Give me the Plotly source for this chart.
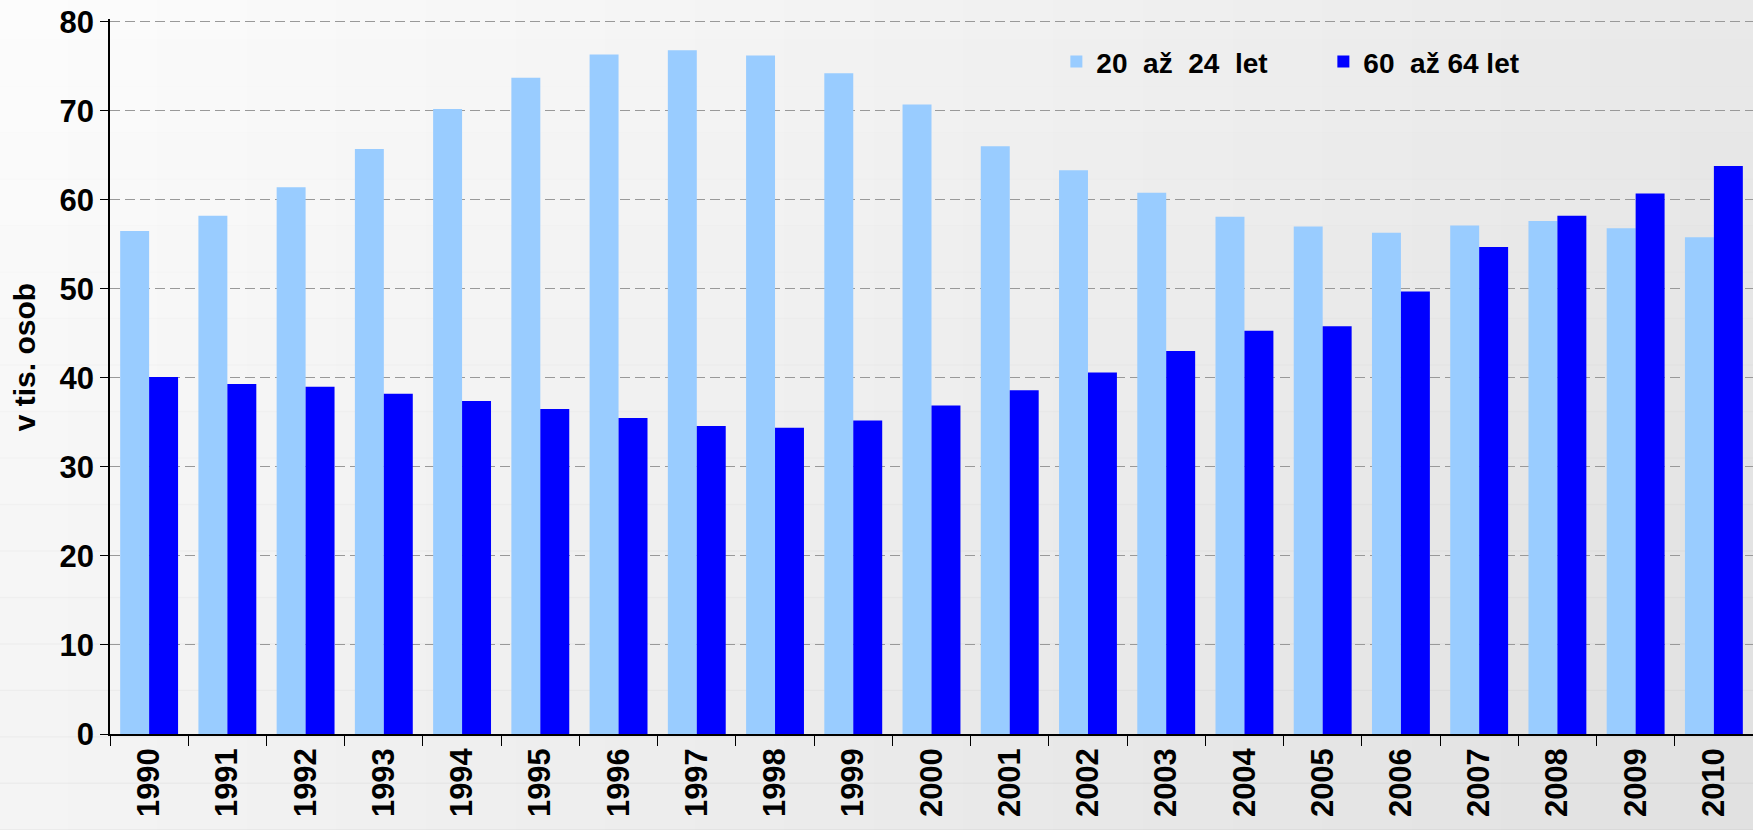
import plotly.graph_objects as go

years = [str(y) for y in range(1990, 2011)]
young = [56.5, 58.2, 61.4, 65.7, 70.2, 73.7, 76.3, 76.8, 76.2, 74.2, 70.7,
         66.0, 63.3, 60.8, 58.1, 57.0, 56.3, 57.1, 57.6, 56.8, 55.8]
old = [40.1, 39.3, 39.0, 38.2, 37.4, 36.5, 35.5, 34.6, 34.4, 35.2, 36.9,
       38.6, 40.6, 43.0, 45.3, 45.8, 49.7, 54.7, 58.2, 60.7, 63.8]
series_names = ["20  až  24  let", "60  až 64 let"]
y_ticks = [0, 10, 20, 30, 40, 50, 60, 70, 80]
y_title = "v tis. osob"

FONT = "Liberation Sans, Arial, sans-serif"

fig = go.Figure()
fig.add_trace(go.Bar(x=years, y=young, name=series_names[0], marker_color="#99ccff",
                     marker_line_width=0))
fig.add_trace(go.Bar(x=years, y=old, name=series_names[1], marker_color="#0000ff",
                     marker_line_width=0))

# background gradient (light top-left to darker right / bottom)
shapes = []
n = 40
x_start, x_end = -0.08, 1.01
for i in range(n):
    t = i / (n - 1)
    c = int(round(252 - t * (252 - 233)))
    w = (x_end - x_start) / n
    shapes.append(dict(type="rect", xref="paper", yref="paper", x0=x_start + i * w,
                       x1=x_start + (i + 1) * w + 0.002, y0=-0.2, y1=1.1,
                       fillcolor=f"rgb({c},{c},{c})", line_width=0, layer="below"))
m = 20
y_start, y_end = -0.2, 1.1
for j in range(m):
    t = 1 - j / (m - 1)  # darker toward bottom
    h = (y_end - y_start) / m
    shapes.append(dict(type="rect", xref="paper", yref="paper", x0=x_start, x1=x_end,
                       y0=y_start + j * h, y1=y_start + (j + 1) * h + 0.002,
                       fillcolor=f"rgba(0,0,0,{0.035 * t:.4f})", line_width=0, layer="below"))

fig.update_layout(
    width=1753, height=830,
    margin=dict(l=110, r=0, t=19, b=96),
    barmode="group", bargap=0.26, bargroupgap=0,
    paper_bgcolor="#f3f3f3", plot_bgcolor="rgba(0,0,0,0)",
    font=dict(family=FONT, color="black"),
    shapes=shapes,
    legend=dict(orientation="h", x=0.576, y=0.94, xanchor="left", yanchor="middle",
                bgcolor="rgba(0,0,0,0)", font=dict(size=28, family=FONT, weight="bold"),
                entrywidth=222, itemwidth=30, traceorder="normal"),
    xaxis=dict(type="category", showline=True, linecolor="black", linewidth=1.5,
               ticks="outside", ticklen=10, tickcolor="black", tickson="boundaries",
               tickangle=-90, tickfont=dict(size=31, family=FONT, weight="bold"),
               showgrid=False, range=[-0.5, 20.5]),
    yaxis=dict(range=[0, 80.3], tickvals=y_ticks, showline=True, linecolor="black",
               linewidth=1.5, ticks="outside", ticklen=8, tickcolor="black",
               tickfont=dict(size=31, family=FONT, weight="bold"),
               showgrid=True, gridcolor="#999999", griddash="10px,5px", gridwidth=1,
               zeroline=False),
    annotations=[dict(text=y_title, xref="paper", yref="paper", x=-0.0523, y=0.527,
                      xanchor="center", yanchor="middle", textangle=-90, showarrow=False,
                      font=dict(size=30, family=FONT, weight="bold", color="black"))],
)

fig.write_html("out.html", config={"displayModeBar": False},
               post_script="document.body.style.margin='0';document.body.style.overflow='hidden';")
